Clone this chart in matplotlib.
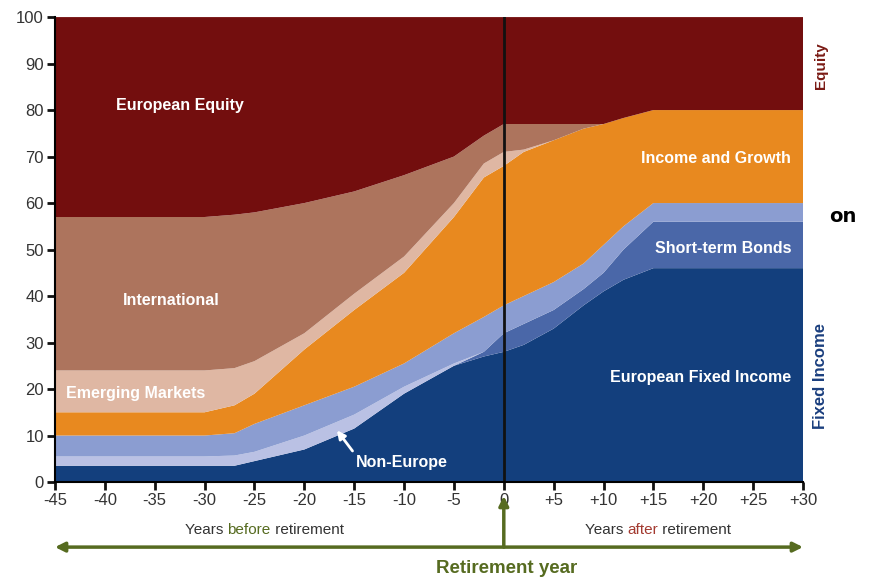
import numpy as np
import matplotlib
matplotlib.use("Agg")
import matplotlib.pyplot as plt

# years relative to retirement
years = [-45, -40, -35, -30, -27, -25, -20, -15, -10, -5, -2, 0, 2, 5, 8, 10, 12, 15, 20, 25, 30]

# allocation (% of portfolio) per asset class, bottom to top
euro_fixed   = [3.5, 3.5, 3.5, 3.5, 3.5, 4.5, 7, 11.5, 19, 25, 27, 28, 29.5, 33, 38, 41, 43.5, 46, 46, 46, 46]
short_term   = [0, 0, 0, 0, 0, 0, 0, 0, 0, 0, 1, 4, 4.5, 4, 3.5, 4, 6.5, 10, 10, 10, 10]
non_europe   = [2, 2, 2, 2, 2.2, 2, 3, 3, 1.5, 0.5, 0, 0, 0, 0, 0, 0, 0, 0, 0, 0, 0]
other_bonds  = [4.5, 4.5, 4.5, 4.5, 4.8, 6, 6.5, 6, 5, 6.5, 7.5, 6, 6, 6, 5.5, 6, 5, 4, 4, 4, 4]
income_grow  = [5, 5, 5, 5, 6, 6.5, 12, 16.5, 19.5, 25, 30, 30, 31, 30.5, 29, 26, 23.3, 20, 20, 20, 20]
emerging     = [9, 9, 9, 9, 8, 7, 3.5, 3.5, 3.5, 3, 3, 3, 0.5, 0, 0, 0, 0, 0, 0, 0, 0]
international = [33, 33, 33, 33, 33, 32, 28, 22, 17.5, 10, 6, 6, 5.5, 3.5, 1, 0, 0, 0, 0, 0, 0]
euro_equity  = [43, 43, 43, 43, 42.5, 42, 40, 37.5, 34, 30, 25.5, 23, 23, 23, 23, 23, 21.7, 20, 20, 20, 20]

xticks = list(range(-45, 31, 5))
xlabels = [str(t) if t <= 0 else "+%d" % t for t in xticks]
yticks = list(range(0, 101, 10))

colors = ["#133f7d", "#4a67a8", "#bac1e4", "#8b9dd1", "#e8891f", "#dfb7a3", "#ad745d", "#730e0e"]

label_font = ["Liberation Sans", "DejaVu Sans"]

fig = plt.figure(figsize=(8.8, 5.79), dpi=100)
ax = fig.add_axes([0.0625, 0.1675, 0.85, 0.803])

ax.stackplot(years, euro_fixed, short_term, non_europe, other_bonds, income_grow,
             emerging, international, euro_equity, colors=colors, linewidth=0)

ax.set_xlim(-45, 30)
ax.set_ylim(0, 100)
ax.axvline(0, color="#111111", lw=2)

for s in ["top", "right"]:
    ax.spines[s].set_visible(False)
ax.spines["left"].set_linewidth(1.5)
ax.spines["bottom"].set_linewidth(1.5)

ax.set_xticks(xticks)
ax.set_xticklabels(xlabels, family=label_font, fontsize=12, color="#333333")
ax.set_yticks(yticks)
ax.set_yticklabels([str(v) for v in yticks], family=label_font, fontsize=12, color="#333333")
ax.tick_params(direction="out", length=6, width=2, color="#111111", pad=2)

# labels inside areas
white = dict(color="white", fontweight="bold", family=label_font, fontsize=11.5)
ax.text(-32.5, 81, "European Equity", ha="center", va="center", **white)
ax.text(-33.3, 39, "International", ha="center", va="center", **white)
ax.text(-43.9, 19, "Emerging Markets", ha="left", va="center", **white)
ax.text(28.8, 69.5, "Income and Growth", ha="right", va="center", **white)
ax.text(28.8, 50.3, "Short-term Bonds", ha="right", va="center", **white)
ax.text(28.8, 22.4, "European Fixed Income", ha="right", va="center", **white)
ax.text(-14.8, 4.3, "Non-Europe", ha="left", va="center", **white)
ax.annotate("", xy=(-16.9, 11.6), xytext=(-15.0, 6.2),
            arrowprops=dict(arrowstyle="-|>", color="white", lw=2, mutation_scale=12))

# side labels
ax.text(31.8, 89.5, "Equity", rotation=90, ha="center", va="center", color="#7a1a14",
        fontweight="bold", family=label_font, fontsize=11, clip_on=False)
ax.text(31.8, 22.8, "Fixed Income", rotation=90, ha="center", va="center", color="#1b3f7e",
        fontweight="bold", family=label_font, fontsize=12, clip_on=False)
ax.text(34.0, 57.2, "on", ha="center", va="center", color="black",
        fontweight="bold", family=["DejaVu Sans"], fontsize=14, clip_on=False)

# below the axis
trans = ax.get_xaxis_transform()
green = "#566b20"
fs = 11

t = ax.text(-32, -0.103, "Years ", color="#333333", transform=trans,
            family=label_font, fontsize=fs, va="center")
t = ax.annotate("before", xycoords=t, xy=(1, 0), va="bottom", color=green,
                family=label_font, fontsize=fs)
ax.annotate(" retirement", xycoords=t, xy=(1, 0), va="bottom", color="#333333",
            family=label_font, fontsize=fs)

t = ax.text(8.1, -0.103, "Years ", color="#333333", transform=trans,
            family=label_font, fontsize=fs, va="center")
t = ax.annotate("after", xycoords=t, xy=(1, 0), va="bottom", color="#a33a30",
                family=label_font, fontsize=fs)
ax.annotate(" retirement", xycoords=t, xy=(1, 0), va="bottom", color="#333333",
            family=label_font, fontsize=fs)

ax.annotate("", xy=(-45, -0.14), xytext=(30, -0.14), xycoords=trans, textcoords=trans,
            arrowprops=dict(arrowstyle="<|-|>", color=green, lw=2.5, mutation_scale=14,
                            shrinkA=0, shrinkB=0), annotation_clip=False)
ax.annotate("", xy=(0, -0.03), xytext=(0, -0.14), xycoords=trans, textcoords=trans,
            arrowprops=dict(arrowstyle="-|>", color=green, lw=2.5, mutation_scale=14,
                            shrinkA=0, shrinkB=0), annotation_clip=False)
ax.text(0.3, -0.185, "Retirement year", transform=trans, ha="center", va="center",
        color=green, fontweight="bold", family=label_font, fontsize=13.5)

fig.savefig("out.png", dpi=100, facecolor="white")
